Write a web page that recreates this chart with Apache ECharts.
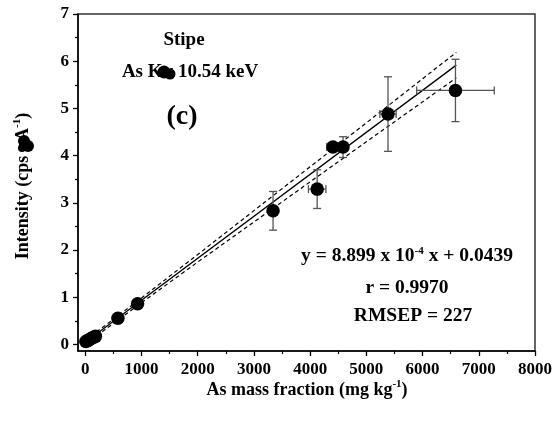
<!DOCTYPE html>
<html>
<head>
<meta charset="utf-8">
<script src="https://cdn.jsdelivr.net/npm/echarts@6/dist/echarts.min.js"></script>
<style>html,body{margin:0;padding:0;background:#fff}#c{width:555px;height:423px}</style>
</head>
<body>
<div id="c"></div>
<script>
// ---- data ----
const massX   = [10, 40, 70, 110, 150, 180, 580, 930, 3340, 4125, 4405, 4585, 5385, 6585];
const intensY = [0.06, 0.08, 0.10, 0.13, 0.15, 0.17, 0.555, 0.86, 2.83, 3.29, 4.18, 4.18, 4.88, 5.38];
const errX    = [0, 0, 0, 0, 0, 0, 0, 0, 0, 155, 110, 0, 145, 690];
const errY    = [0, 0, 0, 0, 0, 0, 0, 0, 0.41, 0.41, 0, 0.22, 0.79, 0.66];

const fitX = [0, 6600];
const fitY = [0.044, 5.917];

const bandX     = [0, 1000, 2000, 3000, 4000, 5000, 6000, 6600];
const bandUpper = [0.084, 0.984, 1.904, 2.834, 3.764, 4.694, 5.628, 6.187];
const bandLower = [0.004, 0.884, 1.744, 2.594, 3.444, 4.294, 5.138, 5.647];

const xMajorTicks = [0, 1000, 2000, 3000, 4000, 5000, 6000, 7000, 8000];
const xMinorTicks = [500, 1500, 2500, 3500, 4500, 5500, 6500, 7500];
const yMajorTicks = [0, 1, 2, 3, 4, 5, 6, 7];
const yMinorTicks = [0.5, 1.5, 2.5, 3.5, 4.5, 5.5, 6.5];

// ---- chart ----
const FONT = '"Liberation Serif", "Times New Roman", serif';
const chart = echarts.init(document.getElementById('c'), null, {renderer: 'canvas'});

const pts = massX.map((x, i) => [x, intensY[i]]);
const errData = massX.map((x, i) => [x, intensY[i], errX[i], errY[i]]);
const zip = (a, b) => a.map((v, i) => [v, b[i]]);

const XMIN = -130, XMAX = 8000, YMIN = -0.14, YMAX = 7;
const plain = v => String(v);

const option = {
  animation: false,
  backgroundColor: '#fff',
  grid: {left: 78, right: 20, top: 14, bottom: 72, show: true, borderColor: '#333', borderWidth: 1.5, backgroundColor: 'transparent'},
  xAxis: [
    {
      type: 'value', min: XMIN, max: XMAX, position: 'bottom',
      splitLine: {show: false},
      axisLine: {show: true, onZero: false, lineStyle: {color: '#000', width: 1.5}},
      axisTick: {show: true, inside: false, length: 5, lineStyle: {color: '#000', width: 1.3}, customValues: xMajorTicks},
      axisLabel: {show: true, margin: 10, color: '#000', fontFamily: FONT, fontWeight: 'bold', fontSize: 17, customValues: xMajorTicks, formatter: plain}
    },
    {
      type: 'value', min: XMIN, max: XMAX, position: 'bottom', gridIndex: 0,
      splitLine: {show: false}, axisLine: {show: false, onZero: false},
      axisLabel: {show: false},
      axisTick: {show: true, inside: false, length: 3, lineStyle: {color: '#000', width: 1.2}, customValues: xMinorTicks}
    }
  ],
  yAxis: [
    {
      type: 'value', min: YMIN, max: YMAX, position: 'left',
      splitLine: {show: false},
      axisLine: {show: true, onZero: false, lineStyle: {color: '#000', width: 1.5}},
      axisTick: {show: true, inside: false, length: 5, lineStyle: {color: '#000', width: 1.3}, customValues: yMajorTicks},
      axisLabel: {show: true, margin: 9, color: '#000', fontFamily: FONT, fontWeight: 'bold', fontSize: 17, customValues: yMajorTicks, formatter: plain}
    },
    {
      type: 'value', min: YMIN, max: YMAX, position: 'left', gridIndex: 0,
      splitLine: {show: false}, axisLine: {show: false, onZero: false},
      axisLabel: {show: false},
      axisTick: {show: true, inside: false, length: 3, lineStyle: {color: '#000', width: 1.2}, customValues: yMinorTicks}
    }
  ],
  series: [
    {
      type: 'line', data: zip(bandX, bandUpper), showSymbol: false, symbol: 'none',
      lineStyle: {color: '#000', width: 1.2, type: [4, 3]}, z: 2
    },
    {
      type: 'line', data: zip(bandX, bandLower), showSymbol: false, symbol: 'none',
      lineStyle: {color: '#000', width: 1.2, type: [4, 3]}, z: 2
    },
    {
      type: 'line', data: zip(fitX, fitY), showSymbol: false, symbol: 'none',
      lineStyle: {color: '#000', width: 1.3}, z: 2
    },
    {
      type: 'custom', data: errData, z: 3,
      renderItem: function (params, api) {
        const x = api.value(0), y = api.value(1), ex = api.value(2), ey = api.value(3);
        const children = [];
        const st = {stroke: '#555', lineWidth: 1.3};
        const cap = 4;
        if (ey > 0) {
          const top = api.coord([x, y + ey]), bot = api.coord([x, y - ey]);
          children.push({type: 'line', shape: {x1: top[0], y1: top[1], x2: bot[0], y2: bot[1]}, style: st});
          children.push({type: 'line', shape: {x1: top[0] - cap, y1: top[1], x2: top[0] + cap, y2: top[1]}, style: st});
          children.push({type: 'line', shape: {x1: bot[0] - cap, y1: bot[1], x2: bot[0] + cap, y2: bot[1]}, style: st});
        }
        if (ex > 0) {
          const l = api.coord([x - ex, y]), r = api.coord([x + ex, y]);
          children.push({type: 'line', shape: {x1: l[0], y1: l[1], x2: r[0], y2: r[1]}, style: st});
          children.push({type: 'line', shape: {x1: l[0], y1: l[1] - cap, x2: l[0], y2: l[1] + cap}, style: st});
          children.push({type: 'line', shape: {x1: r[0], y1: r[1] - cap, x2: r[0], y2: r[1] + cap}, style: st});
        }
        return {type: 'group', children: children};
      }
    },
    {
      type: 'scatter', data: pts, symbol: 'circle', symbolSize: 13.5,
      itemStyle: {color: '#000', opacity: 1}, z: 4
    }
  ],
  graphic: [
    {type: 'text', x: 184, y: 40, z: 10, style: {text: 'Stipe', font: 'bold 19px ' + FONT, fill: '#000', align: 'center', verticalAlign: 'middle'}},
    {type: 'text', x: 190, y: 72, z: 10, style: {text: 'As K\u03b1 10.54 keV', font: 'bold 19px ' + FONT, fill: '#000', align: 'center', verticalAlign: 'middle'}},
    {type: 'circle', z: 11, shape: {cx: 164, cy: 72, r: 6.5}, style: {fill: '#000'}},
    {type: 'circle', z: 11, shape: {cx: 170, cy: 74, r: 5.5}, style: {fill: '#000'}},
    {type: 'text', x: 182, y: 117, z: 10, style: {text: '(c)', font: 'bold 28px ' + FONT, fill: '#000', align: 'center', verticalAlign: 'middle'}},
    {type: 'text', x: 407, y: 256, z: 10, style: {
      text: '{n|y = 8.899 x 10}{s|-4}{n| x + 0.0439}', align: 'center', verticalAlign: 'middle',
      rich: {
        n: {font: 'bold 19.5px ' + FONT, fill: '#000', lineHeight: 20, verticalAlign: 'bottom'},
        s: {font: 'bold 11px ' + FONT, fill: '#000', verticalAlign: 'top', lineHeight: 12}
      }
    }},
    {type: 'text', x: 407, y: 288, z: 10, style: {text: 'r = 0.9970', font: 'bold 19.5px ' + FONT, fill: '#000', align: 'center', verticalAlign: 'middle'}},
    {type: 'text', x: 413, y: 316, z: 10, style: {text: 'RMSEP = 227', font: 'bold 19.5px ' + FONT, fill: '#000', align: 'center', verticalAlign: 'middle'}},
    {type: 'text', x: 307, y: 389, z: 10, style: {
      text: '{n|As mass fraction (mg kg}{s|-1}{n|)}', align: 'center', verticalAlign: 'middle',
      rich: {
        n: {font: 'bold 18px ' + FONT, fill: '#000', lineHeight: 20, verticalAlign: 'bottom'},
        s: {font: 'bold 11px ' + FONT, fill: '#000', verticalAlign: 'top', lineHeight: 12}
      }
    }},
    {type: 'text', x: 22, y: 186, rotation: Math.PI / 2, z: 10, style: {
      text: '{n|Intensity (cps \u03bcA}{s|-1}{n|)}', align: 'center', verticalAlign: 'middle',
      rich: {
        n: {font: 'bold 18px ' + FONT, fill: '#000', lineHeight: 20, verticalAlign: 'bottom'},
        s: {font: 'bold 11px ' + FONT, fill: '#000', verticalAlign: 'top', lineHeight: 12}
      }
    }},
    {type: 'circle', z: 11, shape: {cx: 24, cy: 141, r: 6}, style: {fill: '#000'}},
    {type: 'circle', z: 11, shape: {cx: 28, cy: 146, r: 6}, style: {fill: '#000'}},
    {type: 'circle', z: 11, shape: {cx: 22, cy: 148, r: 4}, style: {fill: '#000'}}
  ]
};
chart.setOption(option);
</script>
</body>
</html>
